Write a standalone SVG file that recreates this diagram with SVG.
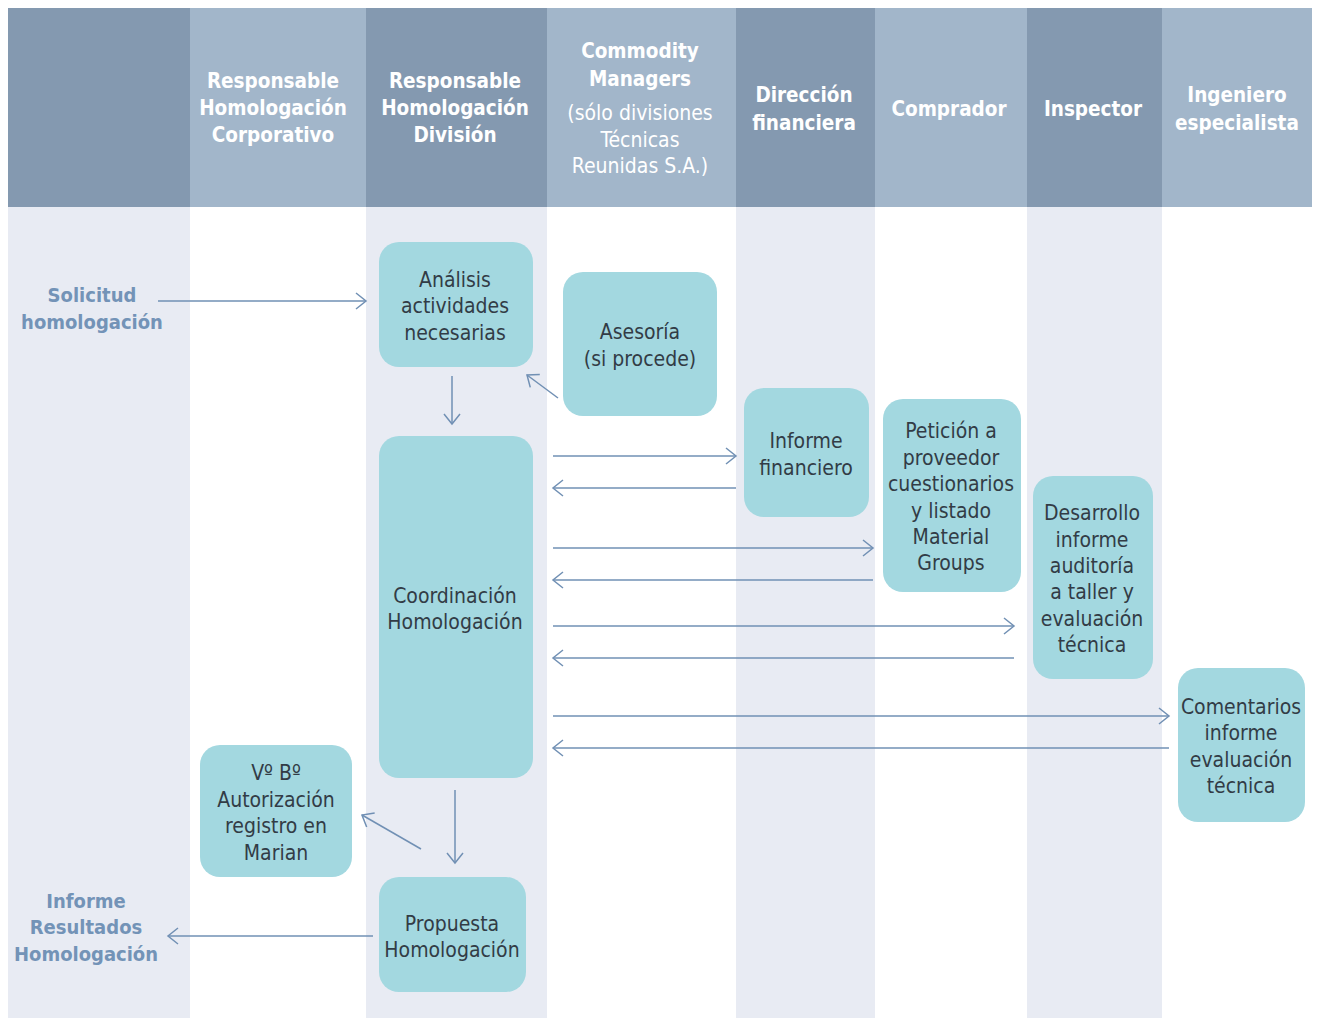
<svg xmlns="http://www.w3.org/2000/svg" width="1317" height="1018" viewBox="0 0 1317 1018">
<style>
.hd{fill:#8499b0}.hl{fill:#a2b6ca}.bs{fill:#e8ebf3}.bw{fill:#ffffff}
.ht{font-family:"DejaVu Sans Condensed","DejaVu Sans",sans-serif;font-stretch:condensed;font-weight:bold;font-size:20.5px;fill:#ffffff;text-anchor:middle}
.hn{font-family:"DejaVu Sans Condensed","DejaVu Sans",sans-serif;font-stretch:condensed;font-size:21px;fill:#ffffff;text-anchor:middle}
.nd{fill:#a3d8e0}
.nt{font-family:"DejaVu Sans Condensed","DejaVu Sans",sans-serif;font-stretch:condensed;font-size:21px;fill:#323c46;text-anchor:middle}
.lb{font-family:"DejaVu Sans Condensed","DejaVu Sans",sans-serif;font-stretch:condensed;font-weight:bold;font-size:20px;fill:#7393b7;text-anchor:middle}
.cn{stroke:#7190b4;stroke-width:1.5;fill:none;marker-end:url(#ah)}
</style>
<defs>
<marker id="ah" markerUnits="userSpaceOnUse" markerWidth="14" markerHeight="20" viewBox="0 0 14 20" refX="12" refY="10" orient="auto">
<path d="M2,2 L12,10 L2,18" fill="none" stroke="#7190b4" stroke-width="1.5"/>
</marker>
</defs>
<rect x="0" y="0" width="1317" height="1018" fill="#ffffff"/>
<g id="lanes">
<rect class="bs" x="8" y="207" width="182" height="811"/>
<rect class="bw" x="190" y="207" width="176" height="811"/>
<rect class="bs" x="366" y="207" width="181" height="811"/>
<rect class="bw" x="547" y="207" width="189" height="811"/>
<rect class="bs" x="736" y="207" width="139" height="811"/>
<rect class="bw" x="875" y="207" width="152" height="811"/>
<rect class="bs" x="1027" y="207" width="135" height="811"/>
<rect class="bw" x="1162" y="207" width="150" height="811"/>
<rect class="hd" x="8" y="8" width="182" height="199"/>
<rect class="hl" x="190" y="8" width="176" height="199"/>
<rect class="hd" x="366" y="8" width="181" height="199"/>
<rect class="hl" x="547" y="8" width="189" height="199"/>
<rect class="hd" x="736" y="8" width="139" height="199"/>
<rect class="hl" x="875" y="8" width="152" height="199"/>
<rect class="hd" x="1027" y="8" width="135" height="199"/>
<rect class="hl" x="1162" y="8" width="150" height="199"/>
</g>
<g id="headers">
<text class="ht" x="273" y="88">Responsable</text>
<text class="ht" x="273" y="115">Homologación</text>
<text class="ht" x="273" y="142">Corporativo</text>
<text class="ht" x="455" y="88">Responsable</text>
<text class="ht" x="455" y="115">Homologación</text>
<text class="ht" x="455" y="142">División</text>
<text class="ht" x="640" y="58">Commodity</text>
<text class="ht" x="640" y="86">Managers</text>
<text class="hn" x="640" y="120">(sólo divisiones</text>
<text class="hn" x="640" y="147">Técnicas</text>
<text class="hn" x="640" y="173">Reunidas S.A.)</text>
<text class="ht" x="804" y="102">Dirección</text>
<text class="ht" x="804" y="130">financiera</text>
<text class="ht" x="949" y="116">Comprador</text>
<text class="ht" x="1093" y="116">Inspector</text>
<text class="ht" x="1237" y="102">Ingeniero</text>
<text class="ht" x="1237" y="130">especialista</text>
</g>
<g id="labels">
<text class="lb" x="92" y="302">Solicitud</text>
<text class="lb" x="92" y="329">homologación</text>
<text class="lb" x="86" y="908">Informe</text>
<text class="lb" x="86" y="934">Resultados</text>
<text class="lb" x="86" y="961">Homologación</text>
</g>
<g id="connectors">
<line class="cn" x1="158" y1="301" x2="366" y2="301"/>
<line class="cn" x1="452" y1="376" x2="452" y2="424"/>
<line class="cn" x1="558" y1="398" x2="527" y2="375"/>
<line class="cn" x1="553" y1="456" x2="736" y2="456"/>
<line class="cn" x1="736" y1="488" x2="553" y2="488"/>
<line class="cn" x1="553" y1="548" x2="873" y2="548"/>
<line class="cn" x1="873" y1="580" x2="553" y2="580"/>
<line class="cn" x1="553" y1="626" x2="1014" y2="626"/>
<line class="cn" x1="1014" y1="658" x2="553" y2="658"/>
<line class="cn" x1="553" y1="716" x2="1169" y2="716"/>
<line class="cn" x1="1169" y1="748" x2="553" y2="748"/>
<line class="cn" x1="455" y1="790" x2="455" y2="863"/>
<line class="cn" x1="421" y1="849" x2="362" y2="815"/>
<line class="cn" x1="373" y1="936" x2="168" y2="936"/>
</g>
<g id="n-analisis">
<rect class="nd" x="379" y="242" width="154" height="125" rx="20"/>
<text class="nt" x="455" y="287">Análisis</text>
<text class="nt" x="455" y="313">actividades</text>
<text class="nt" x="455" y="340">necesarias</text>
</g>
<g id="n-asesoria">
<rect class="nd" x="563" y="272" width="154" height="144" rx="20"/>
<text class="nt" x="640" y="339">Asesoría</text>
<text class="nt" x="640" y="366">(si procede)</text>
</g>
<g id="n-coordinacion">
<rect class="nd" x="379" y="436" width="154" height="342" rx="20"/>
<text class="nt" x="455" y="603">Coordinación</text>
<text class="nt" x="455" y="629">Homologación</text>
</g>
<g id="n-informe">
<rect class="nd" x="744" y="388" width="125" height="129" rx="20"/>
<text class="nt" x="806" y="448">Informe</text>
<text class="nt" x="806" y="475">financiero</text>
</g>
<g id="n-peticion">
<rect class="nd" x="883" y="399" width="138" height="193" rx="20"/>
<text class="nt" x="951" y="438">Petición a</text>
<text class="nt" x="951" y="465">proveedor</text>
<text class="nt" x="951" y="491">cuestionarios</text>
<text class="nt" x="951" y="518">y listado</text>
<text class="nt" x="951" y="544">Material</text>
<text class="nt" x="951" y="570">Groups</text>
</g>
<g id="n-desarrollo">
<rect class="nd" x="1033" y="476" width="120" height="203" rx="20"/>
<text class="nt" x="1092" y="520">Desarrollo</text>
<text class="nt" x="1092" y="547">informe</text>
<text class="nt" x="1092" y="573">auditoría</text>
<text class="nt" x="1092" y="599">a taller y</text>
<text class="nt" x="1092" y="626">evaluación</text>
<text class="nt" x="1092" y="652">técnica</text>
</g>
<g id="n-comentarios">
<rect class="nd" x="1178" y="668" width="127" height="154" rx="20"/>
<text class="nt" x="1241" y="714">Comentarios</text>
<text class="nt" x="1241" y="740">informe</text>
<text class="nt" x="1241" y="767">evaluación</text>
<text class="nt" x="1241" y="793">técnica</text>
</g>
<g id="n-vobo">
<rect class="nd" x="200" y="745" width="152" height="132" rx="20"/>
<text class="nt" x="276" y="780">Vº Bº</text>
<text class="nt" x="276" y="807">Autorización</text>
<text class="nt" x="276" y="833">registro en</text>
<text class="nt" x="276" y="860">Marian</text>
</g>
<g id="n-propuesta">
<rect class="nd" x="379" y="877" width="147" height="115" rx="20"/>
<text class="nt" x="452" y="931">Propuesta</text>
<text class="nt" x="452" y="957">Homologación</text>
</g>
</svg>
